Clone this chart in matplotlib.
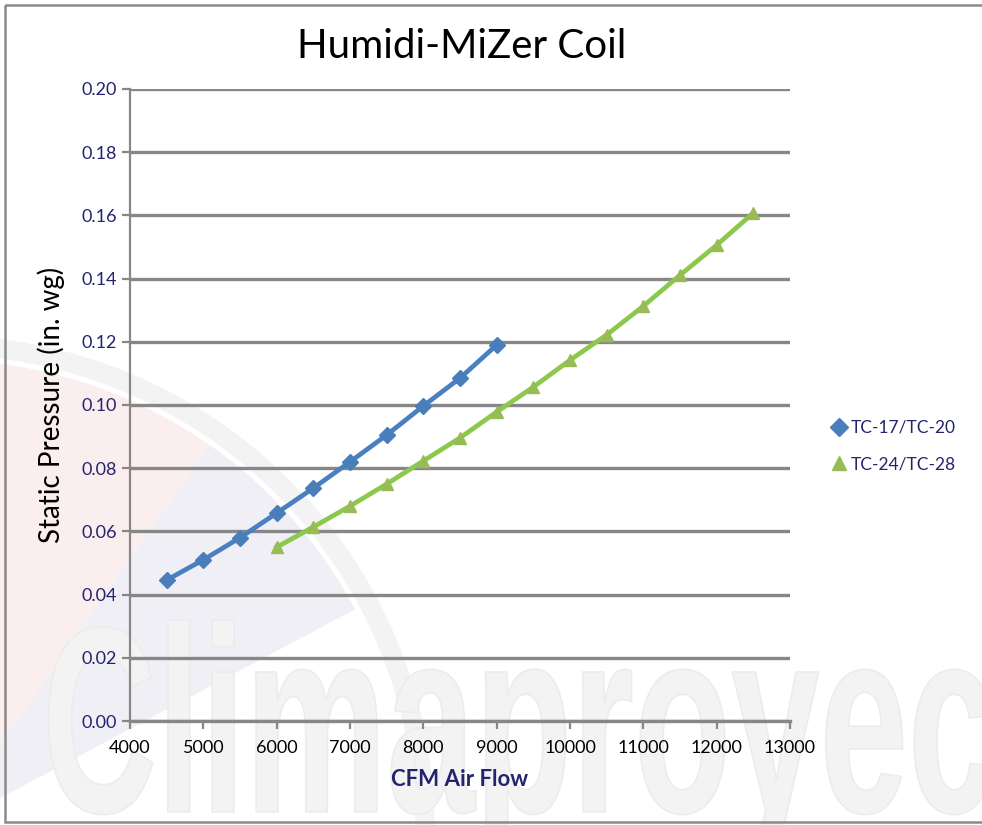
import matplotlib
matplotlib.use("Agg")
import matplotlib.pyplot as plt
import matplotlib.patches as mpatches
from matplotlib.textpath import TextPath
from matplotlib.font_manager import FontProperties
from matplotlib.transforms import Affine2D

# data
cfm_small = [4500, 5000, 5500, 6000, 6500, 7000, 7500, 8000, 8500, 9000]
sp_small = [0.0446, 0.0510, 0.0580, 0.0658, 0.0737, 0.0820, 0.0905, 0.0997, 0.1085, 0.1190]

cfm_large = [6000, 6500, 7000, 7500, 8000, 8500, 9000, 9500, 10000, 10500,
             11000, 11500, 12000, 12500]
sp_large = [0.0550, 0.0614, 0.0680, 0.0750, 0.0823, 0.0896, 0.0978, 0.1057,
            0.1142, 0.1222, 0.1313, 0.1411, 0.1506, 0.1608]

labels = ["TC-17/TC-20", "TC-24/TC-28"]
x_ticks = list(range(4000, 13001, 1000))
y_ticks = [0.00, 0.02, 0.04, 0.06, 0.08, 0.10, 0.12, 0.14, 0.16, 0.18, 0.20]

NAVY = "#24246e"
GRID = "#878787"

plt.rcParams["font.family"] = ["Lato", "DejaVu Sans"]

fig = plt.figure(figsize=(9.82, 8.25), dpi=100)

# background watermark, drawn in pixel coordinates
bg = fig.add_axes([0, 0, 1, 1], zorder=0)
bg.set_xlim(0, 982)
bg.set_ylim(825, 0)
bg.axis("off")

center = (-60, 830)
bg.add_patch(mpatches.Wedge(center, 470, -90, -55, facecolor="#fbeeee", edgecolor="none"))
bg.add_patch(mpatches.Wedge(center, 470, -55, -28, facecolor="#efeff5", edgecolor="none"))
bg.add_patch(mpatches.Circle(center, 485, facecolor="none", edgecolor="#f3f3f3", linewidth=14))

tp = TextPath((0, 0), "Climaproyectos", size=265,
              prop=FontProperties(family=["Liberation Sans", "DejaVu Sans"], weight="bold"))
tp = tp.transformed(Affine2D().scale(0.6, -1).translate(42, 812))
bg.add_patch(mpatches.PathPatch(tp, facecolor="#f3f3f3", edgecolor="#ececec", linewidth=1.2))

# outer frame
bg.add_patch(mpatches.Rectangle((5, 5), 1200, 817, facecolor="none", edgecolor="#8a8a8a", linewidth=1.8))

ax = fig.add_axes([130 / 982, 1 - 721 / 825, 660 / 982, 632 / 825], zorder=2)
ax.set_facecolor("none")

ax.plot(cfm_small, sp_small, color="#4a7fc0", linewidth=3.4, marker="D", markersize=8,
        markerfacecolor="#4a7ebb", markeredgecolor="#4a7ebb", label=labels[0], zorder=3)
ax.plot(cfm_large, sp_large, color="#8cc84b", linewidth=3.4, marker="^", markersize=9,
        markerfacecolor="#98bb55", markeredgecolor="#98bb55", label=labels[1], zorder=3)

ax.set_xlim(4000, 13000)
ax.set_ylim(0, 0.20)
ax.set_xticks(x_ticks)
ax.set_yticks(y_ticks)
ax.set_yticklabels(["%.2f" % v for v in y_ticks])

ax.grid(axis="y", color=GRID, linewidth=2.4)
ax.set_axisbelow(True)

for side in ("top", "right"):
    ax.spines[side].set_visible(False)
ax.spines["left"].set_color(GRID)
ax.spines["left"].set_linewidth(1.6)
ax.spines["bottom"].set_color(GRID)
ax.spines["bottom"].set_linewidth(2.4)

ax.tick_params(axis="both", colors=GRID, width=1.6, length=6, labelsize=13, labelcolor=NAVY)
ax.tick_params(axis="x", pad=8, labelcolor="black")

ax.set_xlabel("CFM Air Flow", fontsize=16, fontweight="bold", color=NAVY, labelpad=9)
ax.set_ylabel("Static Pressure (in. wg)", fontsize=20, color="black", labelpad=12)

fig.text(462 / 982, 1 - 47 / 825, "Humidi-MiZer Coil", fontsize=29, ha="center", va="center")

leg = ax.legend(loc="center left", bbox_to_anchor=(1.04, 0.435), frameon=False,
                fontsize=12.5, handlelength=0.8, handletextpad=0.3, labelspacing=1.2,
                markerscale=1.1)
for line in leg.get_lines():
    line.set_linestyle("none")
for text in leg.get_texts():
    text.set_color(NAVY)

fig.savefig("out.png", dpi=100)
